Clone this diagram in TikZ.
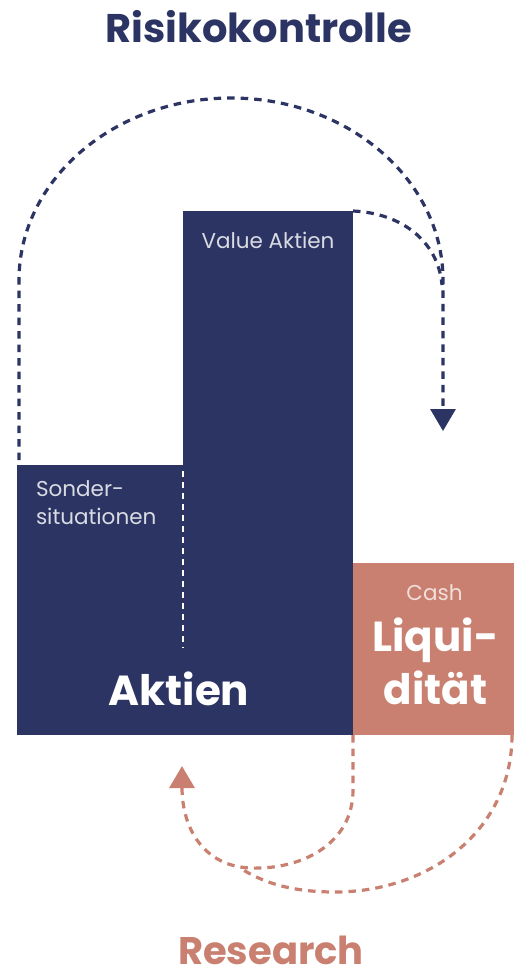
\documentclass[tikz,border=0pt]{standalone}
\usepackage{fontspec}
\setmainfont{Poppins}
\usetikzlibrary{arrows.meta,positioning}

\definecolor{navy}{HTML}{2C3463}
\definecolor{salmon}{HTML}{C98070}

\tikzset{
  basic/.style   = {inner sep=0pt, outer sep=0pt},
  block/.style   = {basic, rectangle, anchor=south west},
  equity/.style  = {block, fill=navy},
  cash/.style    = {block, fill=salmon},
  small/.style   = {basic, font=\fontsize{21.5}{28}\selectfont},
  big/.style     = {basic, align=center, text=white, font=\fontsize{42}{53}\selectfont\bfseries},
  heading/.style = {basic, anchor=base, font=\fontsize{40}{45}\selectfont\bfseries},
  flow/.style    = {line width=3.2pt, dash pattern=on 7.5pt off 6pt}
}

\begin{document}
\begin{tikzpicture}[x=1pt, y=-1pt, >={Triangle[width=25pt,length=22pt]}]
\useasboundingbox (0,0) rectangle (514,977);

% the three blocks, side by side
\node[equity, minimum width=166pt, minimum height=270pt] (sonder) at (17,735) {};
\node[equity, minimum width=170pt, minimum height=524pt] (value) at (sonder.south east) {};
\node[cash, minimum width=161pt, minimum height=172pt] (liqui) at (value.south east) {};

% divider inside the equity block
\draw[white, line width=2.6pt, dash pattern=on 6pt off 5pt]
  ([yshift=-6pt]sonder.north east) -- ([yshift=87pt]sonder.south east);

% labels in the blocks
\node[small, text=white!82!navy, align=left, anchor=north west] (sondertxt)
  at ([xshift=19pt,yshift=-16pt]sonder.north west) {Sonder-\\situationen};
\node[small, text=white!82!navy, anchor=north] (valuetxt)
  at ([yshift=-21pt]value.north) {Value Aktien};
\node[big, anchor=base] (aktien) at ([xshift=-4pt,yshift=30pt]sonder.south east) {Aktien};
\node[small, text=white!75!salmon, anchor=base] (cashtxt)
  at ([xshift=1pt,yshift=-37pt]liqui.north) {Cash};
\node[big, anchor=south] (liquitxt) at ([xshift=2pt,yshift=30pt]liqui.south) {Liqui-\\dität};

% headings
\node[heading, text=navy] (risiko) at (259,42) {Risikokontrolle};
\node[heading, text=salmon, font=\fontsize{38.5}{45}\selectfont\bfseries] (research) at (271,964) {Research};

% risk control loop
\coordinate (navytip) at (443,431);
\draw[flow, navy, ->] ([xshift=2pt,yshift=5pt]sonder.north west) -- (19,280)
  .. controls (19,180) and (114,98) .. (231,98)
  .. controls (348,98) and (443,180) .. (443,280) -- (navytip);
\draw[flow, navy] (value.north east) .. controls (400,213) and (438,240) .. (442,285);

% research loop
\coordinate (salmontip) at (182,766);
\draw[flow, salmon, ->] (value.south east) -- (353,790)
  .. controls (353,845) and (300,870) .. (250,868)
  .. controls (205,866) and (182,830) .. (salmontip);
\draw[flow, salmon] ([xshift=-2pt]liqui.south east) .. controls (512,830) and (430,892) .. (335,892)
  .. controls (290,892) and (262,882) .. (240,868);

\end{tikzpicture}
\end{document}
